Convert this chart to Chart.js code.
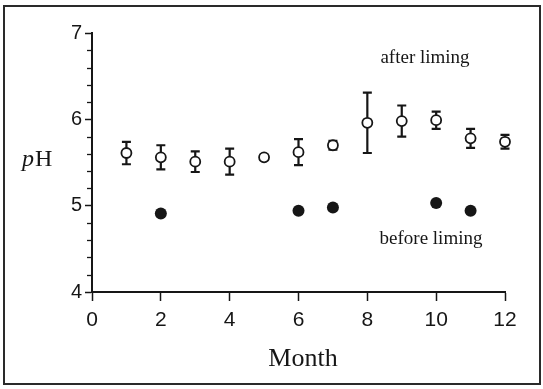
<!DOCTYPE html>
<html>
<head>
<meta charset="utf-8">
<script src="https://cdn.jsdelivr.net/npm/chart.js@4.4.0/dist/chart.umd.min.js"></script>
<style>
  html, body { margin: 0; padding: 0; background: #fff; }
  #wrap { width: 543px; height: 389px; position: relative; }
</style>
</head>
<body>
<div id="wrap"><canvas id="phChart" width="543" height="389"></canvas></div>
<script>
// monthly pH
const months = [1, 2, 3, 4, 5, 6, 7, 8, 9, 10, 11, 12];
const afterLiming = [5.61, 5.56, 5.51, 5.51, 5.56, 5.62, 5.70, 5.96, 5.98, 5.99, 5.78, 5.74];
const afterErr = [0.13, 0.14, 0.12, 0.15, 0.03, 0.15, 0.05, 0.35, 0.18, 0.10, 0.11, 0.08];

const beforeMonths = [2, 6, 7, 10, 11];
const beforeLiming = [4.91, 4.94, 4.98, 5.03, 4.94];

const xTicks = [0, 2, 4, 6, 8, 10, 12];
const yTicks = [4, 5, 6, 7];

const ink = "#161616";
const sansFont = "'Liberation Sans', Arial, sans-serif";
const serifFont = "'Liberation Serif', 'Times New Roman', serif";

// error bars + minor ticks + labels + frame
const extras = {
  id: "extras",
  beforeDatasetsDraw(chart) {
    const { ctx, scales: { x, y } } = chart;
    ctx.save();
    ctx.strokeStyle = ink;
    ctx.lineWidth = 2.2;
    months.forEach((m, i) => {
      const px = x.getPixelForValue(m);
      const top = y.getPixelForValue(afterLiming[i] + afterErr[i]);
      const bot = y.getPixelForValue(afterLiming[i] - afterErr[i]);
      ctx.beginPath();
      ctx.moveTo(px, top); ctx.lineTo(px, bot);
      ctx.moveTo(px - 4.5, top); ctx.lineTo(px + 4.5, top);
      ctx.moveTo(px - 4.5, bot); ctx.lineTo(px + 4.5, bot);
      ctx.stroke();
    });
    ctx.restore();
  },
  afterDraw(chart) {
    const { ctx, chartArea, scales: { y } } = chart;
    ctx.save();
    // minor y ticks every 0.2
    ctx.strokeStyle = ink;
    ctx.lineWidth = 1.3;
    for (let v = 4.2; v < 7; v += 0.2) {
      if (Math.abs(v - Math.round(v)) < 0.01) continue;
      const py = Math.round(y.getPixelForValue(v)) + 0.5;
      ctx.beginPath();
      ctx.moveTo(chartArea.left - 5, py);
      ctx.lineTo(chartArea.left, py);
      ctx.stroke();
    }

    ctx.fillStyle = ink;
    ctx.textBaseline = "alphabetic";
    // y title, horizontal
    ctx.textAlign = "left";
    ctx.font = "italic 24px " + serifFont;
    ctx.fillText("p", 22, 166);
    const pw = ctx.measureText("p").width;
    ctx.font = "24px " + serifFont;
    ctx.fillText("H", 22 + pw + 1, 166);

    ctx.textAlign = "center";
    ctx.font = "26px " + serifFont;
    ctx.fillText("Month", 303, 366);

    ctx.font = "19px " + serifFont;
    ctx.fillText("after liming", 425, 63);
    ctx.fillText("before liming", 431, 244);

    // figure frame
    ctx.strokeStyle = "#2a2a2a";
    ctx.lineWidth = 2;
    ctx.strokeRect(4, 6, 536, 378);
    ctx.restore();
  }
};

new Chart(document.getElementById("phChart"), {
  type: "scatter",
  data: {
    datasets: [
      {
        label: "after liming",
        data: months.map((m, i) => ({ x: m, y: afterLiming[i] })),
        clip: false,
        pointStyle: "circle",
        pointRadius: 5,
        pointBorderWidth: 1.8,
        pointBackgroundColor: "#fff",
        pointBorderColor: ink
      },
      {
        label: "before liming",
        data: beforeMonths.map((m, i) => ({ x: m, y: beforeLiming[i] })),
        clip: false,
        pointStyle: "circle",
        pointRadius: 6,
        pointBorderWidth: 0,
        pointBackgroundColor: ink,
        pointBorderColor: ink
      }
    ]
  },
  options: {
    responsive: false,
    animation: false,
    events: [],
    layout: { padding: { left: 32, top: 33, right: 38, bottom: 0 } },
    plugins: {
      legend: { display: false },
      tooltip: { enabled: false }
    },
    scales: {
      x: {
        type: "linear",
        min: 0,
        max: 12,
        afterFit: s => { s.height = 97; },
        afterBuildTicks: s => { s.ticks = xTicks.map(v => ({ value: v })); },
        border: { display: true, color: ink, width: 2 },
        grid: { drawOnChartArea: false, drawTicks: true, tickLength: 9, color: ink, tickWidth: 1.5 },
        ticks: { color: ink, padding: 7, maxRotation: 0, font: { family: sansFont, size: 21 } }
      },
      y: {
        type: "linear",
        min: 4,
        max: 7,
        afterFit: s => { s.width = 60; },
        afterBuildTicks: s => { s.ticks = yTicks.map(v => ({ value: v })); },
        border: { display: true, color: ink, width: 2 },
        grid: { drawOnChartArea: false, drawTicks: true, tickLength: 7, color: ink, tickWidth: 1.5 },
        ticks: { color: ink, padding: 3, font: { family: sansFont, size: 20 } }
      }
    }
  },
  plugins: [extras]
});
</script>
</body>
</html>
